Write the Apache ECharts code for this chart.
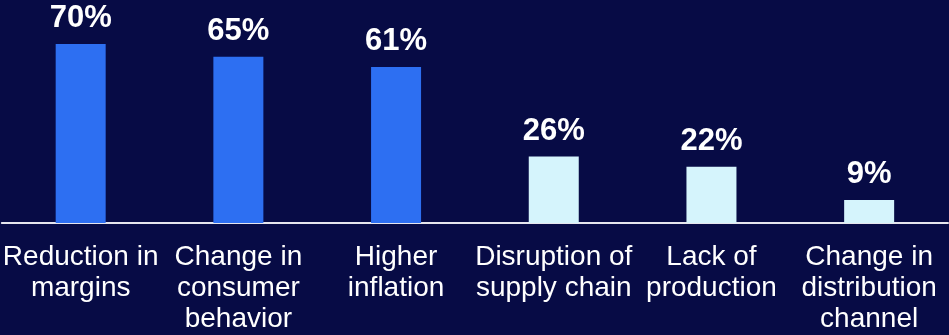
<!DOCTYPE html>
<html>
<head>
<meta charset="utf-8">
<script src="https://cdn.jsdelivr.net/npm/echarts@6/dist/echarts.min.js"></script>
<style>
  html, body { margin: 0; padding: 0; background: #070b45; }
  #chart { width: 949px; height: 335px; }
</style>
</head>
<body>
<div id="chart"></div>
<script>
// Challenges reported, share of respondents (%)
const categories = [
  'Reduction in\nmargins',
  'Change in\nconsumer\nbehavior',
  'Higher\ninflation',
  'Disruption of\nsupply chain',
  'Lack of\nproduction',
  'Change in\ndistribution\nchannel'
];
const values = [70, 65, 61, 26, 22, 9];
// first three bars highlighted in blue, remainder in pale cyan
const barColors = ['#2d6ff2', '#2d6ff2', '#2d6ff2', '#d5f4fc', '#d5f4fc', '#d5f4fc'];

const chart = echarts.init(document.getElementById('chart'), null, { renderer: 'canvas' });

chart.setOption({
  backgroundColor: '#070b45',
  animation: false,
  grid: { left: 0, right: 1, top: 18.4, bottom: 112, containLabel: false },
  xAxis: {
    type: 'category',
    data: categories,
    axisLine: { show: true, lineStyle: { color: '#e6e6ee', width: 2 } },
    axisTick: { show: false },
    axisLabel: {
      color: '#ffffff',
      fontFamily: 'Liberation Sans, Arial, sans-serif',
      fontSize: 28,
      lineHeight: 31,
      margin: 19,
      interval: 0
    }
  },
  yAxis: {
    type: 'value',
    min: 0,
    max: 80,
    show: false,
    splitLine: { show: false }
  },
  series: [{
    type: 'bar',
    barWidth: 50,
    data: values.map((v, i) => ({ value: v, itemStyle: { color: barColors[i] } })),
    label: {
      show: true,
      position: 'top',
      distance: 10,
      formatter: '{c}%',
      color: '#ffffff',
      fontFamily: 'Liberation Sans, Arial, sans-serif',
      fontWeight: 'bold',
      fontSize: 31
    }
  }]
});
</script>
</body>
</html>
